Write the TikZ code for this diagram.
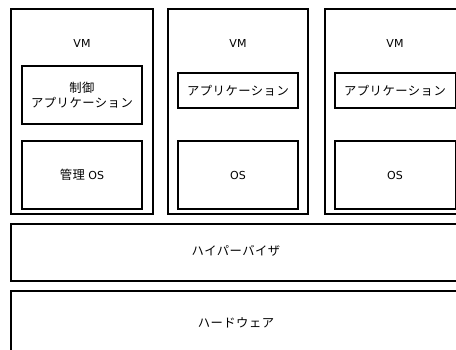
\documentclass[tikz,border=0pt]{standalone}
\usepackage{fontspec}
\setmainfont{DejaVu Sans}
\newfontfamily\jp{Noto Sans CJK JP}[LetterSpace=4,Scale=1.12]
\begin{document}
\begin{tikzpicture}[x=1pt,y=-1pt,
  box/.style={draw=black,line width=1.5pt},
  lbl/.style={font=\fontsize{11}{15}\selectfont,align=center,inner sep=0pt}]
\useasboundingbox (0,0) rectangle (456,349);
\clip (0,0) rectangle (456,349);
% VM 1
\draw[box] (11,9) rectangle (153,214);
\node[lbl] (vm1) at (82,43) {VM};
\draw[box] (22,66) rectangle (142,124);
\node[lbl] (app1) at (82,95) {{\jp 制御}\\{\jp アプリケーション}};
\draw[box] (22,141) rectangle (142,209);
\node[lbl] (os1) at (82,175) {{\jp 管理} OS};
% VM 2
\draw[box] (168,9) rectangle (308,214);
\node[lbl] (vm2) at (238,43) {VM};
\draw[box] (178,73) rectangle (298,108);
\node[lbl] (app2) at (238,91) {\jp アプリケーション};
\draw[box] (178,141) rectangle (298,209);
\node[lbl] (os2) at (238,175) {OS};
% VM 3
\draw[box] (325,9) rectangle (466,214);
\node[lbl] (vm3) at (395,43) {VM};
\draw[box] (335,73) rectangle (456,108);
\node[lbl] (app3) at (395,91) {\jp アプリケーション};
\draw[box] (335,141) rectangle (456,209);
\node[lbl] (os3) at (395,175) {OS};
% hypervisor
\draw[box] (11,224) rectangle (470,281);
\node[lbl] (hv) at (236,251) {\jp ハイパーバイザ};
% hardware
\draw[box] (11,291) rectangle (470,360);
\node[lbl] (hw) at (236,323) {\jp ハードウェア};
\end{tikzpicture}
\end{document}
